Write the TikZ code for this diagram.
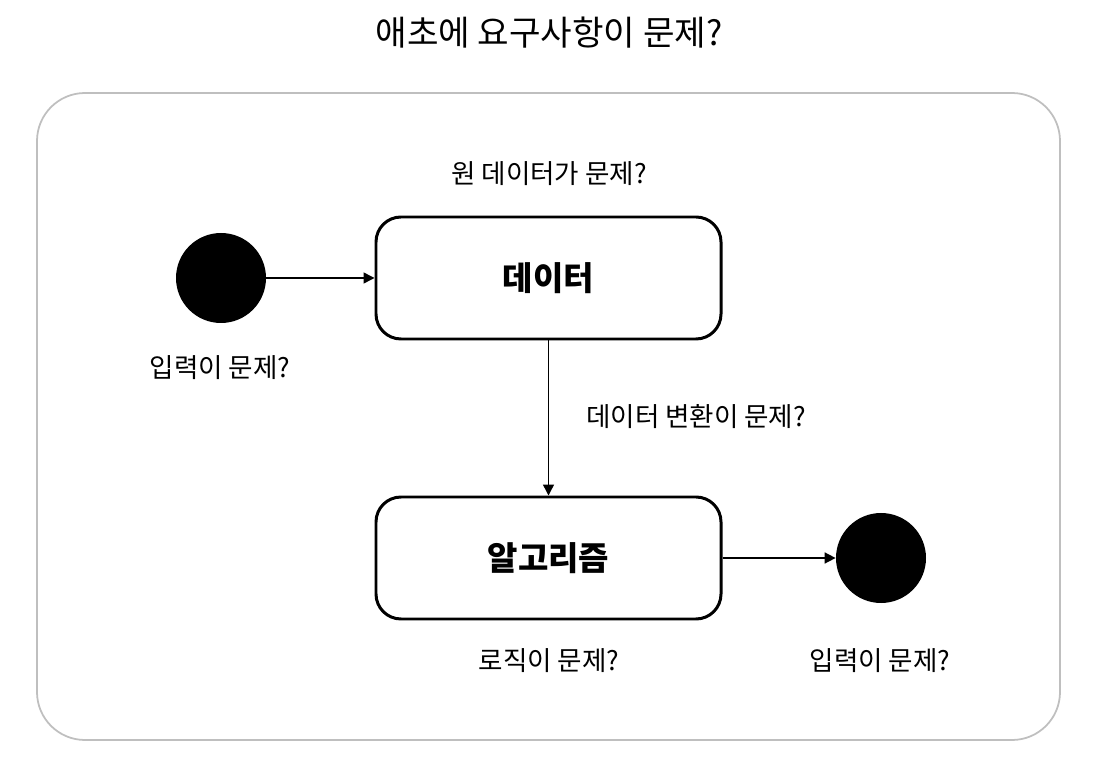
\documentclass[tikz,border=0pt]{standalone}
\usepackage{fontspec}
\setmainfont{Noto Sans CJK KR}
\usepackage{tikz}
\usetikzlibrary{arrows.meta}

\begin{document}
\begin{tikzpicture}[
		stateBox/.style={rectangle, draw=black, line width=1.7pt, fill=white, minimum width=6.9cm, minimum height=2.44cm, rounded corners=0.5cm, font=\fontsize{18.8}{22}\selectfont\bfseries},
		pseudoState/.style={circle, fill=black, minimum size=1.8cm, inner sep=0pt},
		questionLabel/.style={font=\fontsize{15.1}{18}\selectfont},
		transition/.style={line width=0.85pt, -{Triangle[length=2.2mm, width=2.2mm]}}
	]
		\useasboundingbox (0,0) rectangle (21.96,15.32);
		\node[font=\fontsize{19.5}{23}\selectfont](requirementLabel) at (10.98,14.66){애초에 요구사항이 문제?};
		\node[rectangle, draw=black!25, line width=1pt, minimum width=20.46cm, minimum height=12.94cm, rounded corners=0.96cm](requirementFrame) at (10.97,6.99){};
		\node[pseudoState](initialState) at (4.42,9.76){};
		\node[questionLabel](initialLabel) at (4.4,7.96){입력이 문제?};
		\node[stateBox](dataBox) at (10.97,9.76){데이터};
		\node[questionLabel](dataLabel) at (10.98,11.84){원 데이터가 문제?};
		\node[stateBox](algorithmBox) at (10.97,4.16){알고리즘};
		\node[questionLabel](algorithmLabel) at (10.98,2.1){로직이 문제?};
		\node[questionLabel, anchor=west](transformLabel) at (11.6,6.98){데이터 변환이 문제?};
		\node[pseudoState](finalState) at (17.62,4.16){};
		\node[questionLabel](finalLabel) at (17.6,2.1){입력이 문제?};
		\draw[transition] (initialState) -- (dataBox);
		\draw[transition] (dataBox) -- (algorithmBox);
		\draw[transition] (algorithmBox) -- (finalState);
	\end{tikzpicture}
\end{document}
